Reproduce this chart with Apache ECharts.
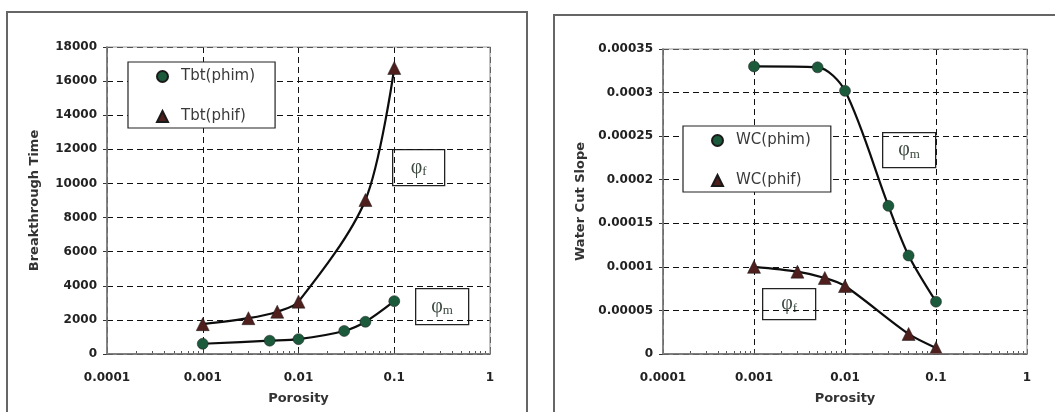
<!DOCTYPE html>
<html>
<head>
<meta charset="UTF-8">
<title>Porosity charts</title>
<script src="https://cdn.jsdelivr.net/npm/echarts@6/dist/echarts.min.js"></script>
<style>
  html, body { margin: 0; padding: 0; background: #fff; }
  #main { width: 1055px; height: 412px; }
</style>
</head>
<body>
<div id="main"></div>
<script>
// porosity values (x) for each series
var porosityM = [0.001, 0.005, 0.01, 0.03, 0.05, 0.1];
var porosityF = [0.001, 0.003, 0.006, 0.01, 0.05, 0.1];
// breakthrough time
var tbtPhim = [600, 780, 870, 1350, 1890, 3100];
var tbtPhif = [1750, 2100, 2480, 3070, 9030, 16770];
// water cut slope
var wcPhim = [0.00033, 0.000329, 0.000302, 0.00017, 0.000113, 0.00006];
var wcPhif = [0.0001, 0.0000945, 0.0000872, 0.000078, 0.000023, 0.000007];

var green = '#1c5a3c', brown = '#4e1f1c';
var labelFont = { fontFamily: 'DejaVu Sans', fontWeight: 'bold', fontSize: 12, color: '#222' };
var nameFont = { fontFamily: 'DejaVu Sans', fontWeight: 'bold', fontSize: 13, color: '#333' };
var dash = { color: '#111', type: [6, 4], width: 1 };

function pairs(xs, ys) {
  return xs.map(function (x, i) { return [x, ys[i]]; });
}
function fmt(v) {
  return String(+(+v).toPrecision(6));
}

function xAxis(grid) {
  return {
    type: 'log', logBase: 10, min: 0.0001, max: 1, gridIndex: grid,
    name: 'Porosity', nameLocation: 'middle', nameGap: 38, nameTextStyle: nameFont,
    axisLine: { lineStyle: { color: '#333', width: 1.5 } },
    axisTick: { inside: true, length: 5, lineStyle: { color: '#333' } },
    minorTick: { show: true, splitNumber: 9, length: 3, lineStyle: { color: '#555' } },
    axisLabel: Object.assign({ margin: 18, formatter: fmt }, labelFont),
    splitLine: { show: true, lineStyle: dash }
  };
}
function yAxis(grid, name, max, step, gap) {
  return {
    type: 'value', min: 0, max: max, interval: step, gridIndex: grid,
    name: name, nameLocation: 'middle', nameGap: gap, nameRotate: 90, nameTextStyle: nameFont,
    axisLine: { show: true, lineStyle: { color: '#333', width: 1.5 } },
    axisTick: { show: true, length: 4, lineStyle: { color: '#333' } },
    axisLabel: Object.assign({ margin: 10, formatter: fmt }, labelFont),
    splitLine: { show: true, lineStyle: dash }
  };
}
function line(name, x, y, grid, color, symbol, size) {
  return {
    name: name, type: 'line', xAxisIndex: grid, yAxisIndex: grid,
    data: pairs(x, y), smooth: 0.3, symbol: symbol, symbolSize: size,
    itemStyle: { color: color, borderColor: '#1a1a1a', borderWidth: 0.5 },
    lineStyle: { color: '#0d0d0d', width: 2.2 }, z: 5
  };
}
function legend(names, left, top) {
  return {
    orient: 'vertical', left: left, top: top, itemGap: 25,
    padding: [7, 20, 4, 28], itemWidth: 11, itemHeight: 11,
    backgroundColor: '#fff', borderColor: '#222', borderWidth: 1.2, borderRadius: 0,
    textStyle: { fontFamily: 'DejaVu Sans', fontSize: 15, color: '#3a3a3a', padding: [0, 0, 0, 8] },
    data: [{ name: names[0], icon: 'circle' }, { name: names[1], icon: 'triangle' }]
  };
}
function phiBox(x, y, w, h, sub) {
  return {
    type: 'group', left: x, top: y, z: 50,
    children: [
      { type: 'rect', shape: { x: 0, y: 0, width: w, height: h },
        style: { fill: 'rgba(255,255,255,0.55)', stroke: '#222', lineWidth: 1.3 } },
      { type: 'text', x: w / 2, y: h / 2,
        style: { text: '{a|φ}{b|' + sub + '}', align: 'center', verticalAlign: 'middle',
          rich: { a: { fontFamily: 'Liberation Serif', fontSize: 20, fill: '#3c4a40' },
                  b: { fontFamily: 'Liberation Serif', fontSize: 13, fill: '#3c4a40', padding: [8, 0, 0, 0] } } } }
    ]
  };
}
function frame(x, y, w, h) {
  return { type: 'rect', shape: { x: x, y: y, width: w, height: h }, z: -1,
    style: { fill: 'none', stroke: '#666', lineWidth: 2 } };
}
function plotBorder(x, y, w, h) {
  return { type: 'rect', shape: { x: x, y: y, width: w, height: h }, z: 40, silent: true,
    style: { fill: 'none', stroke: '#9a9a9a', lineWidth: 1.2 } };
}

var chart = echarts.init(document.getElementById('main'));
chart.setOption({
  animation: false,
  backgroundColor: '#fff',
  grid: [
    { left: 107, top: 47, width: 383, height: 307 },
    { left: 663, top: 49, width: 364, height: 305 }
  ],
  xAxis: [xAxis(0), xAxis(1)],
  yAxis: [
    yAxis(0, 'Breakthrough Time', 18000, 2000, 66),
    yAxis(1, 'Water Cut Slope', 0.00035, 0.00005, 76)
  ],
  legend: [
    legend(['Tbt(phim)', 'Tbt(phif)'], 128, 62),
    legend(['WC(phim)', 'WC(phif)'], 683, 126)
  ],
  series: [
    line('Tbt(phim)', porosityM, tbtPhim, 0, green, 'circle', 11),
    line('Tbt(phif)', porosityF, tbtPhif, 0, brown, 'triangle', 13),
    line('WC(phim)', porosityM, wcPhim, 1, green, 'circle', 11),
    line('WC(phif)', porosityF, wcPhif, 1, brown, 'triangle', 13)
  ],
  graphic: [
    frame(7, 12, 520, 420),
    frame(554, 15, 520, 420),
    plotBorder(107, 47, 383, 307),
    plotBorder(663, 49, 364, 305),
    phiBox(392, 149, 52, 36, 'f'),
    phiBox(415, 288, 53, 36, 'm'),
    phiBox(882, 132, 53, 35, 'm'),
    phiBox(762, 288, 53, 31, 'f')
  ]
});
</script>
</body>
</html>
